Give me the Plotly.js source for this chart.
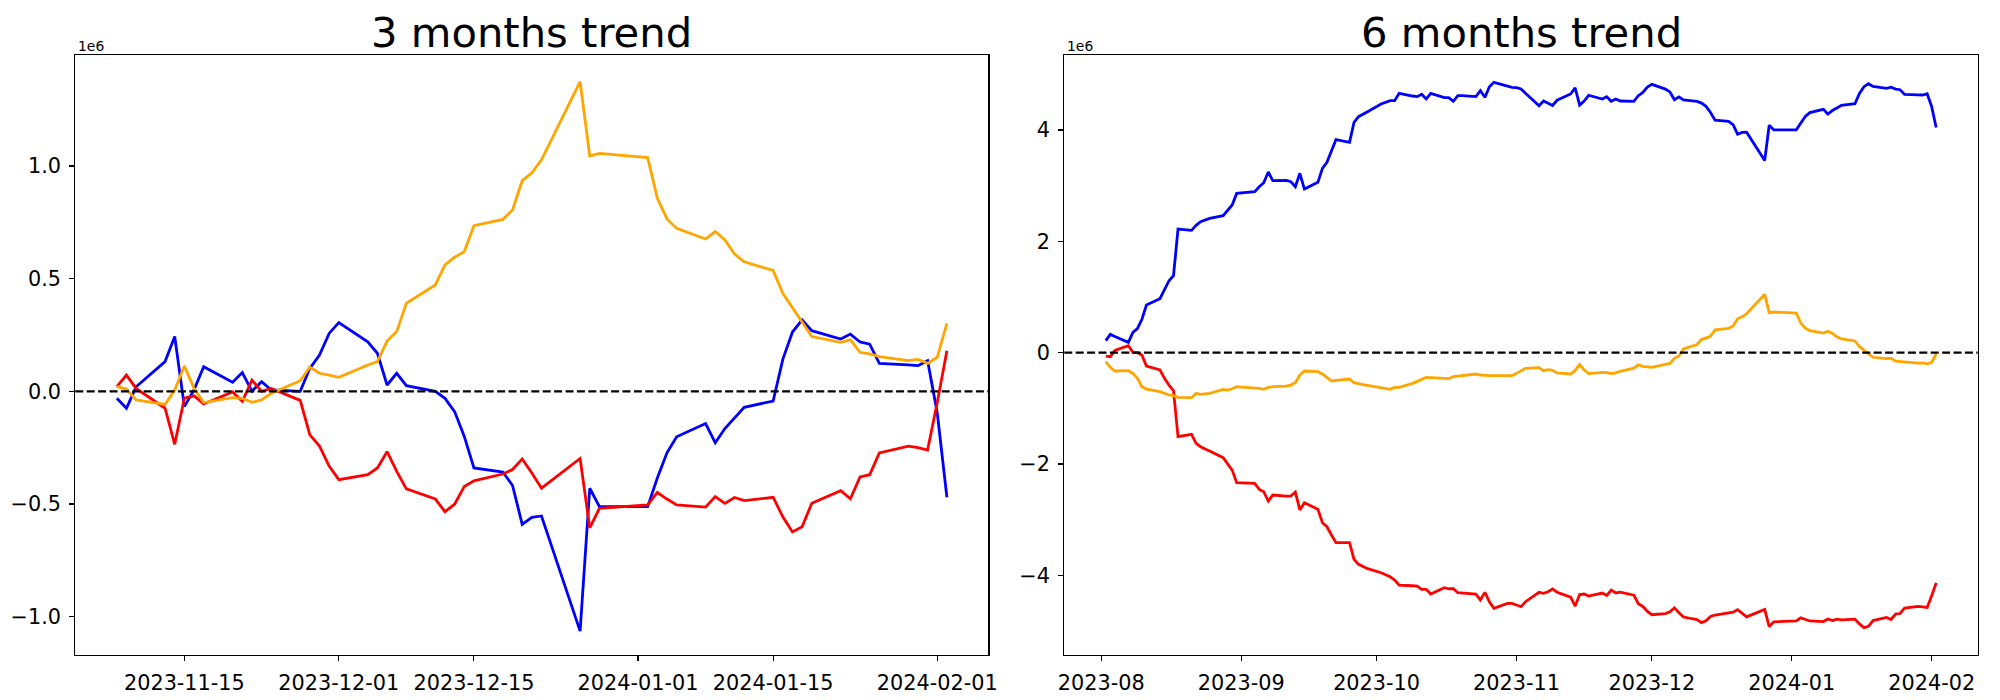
<!DOCTYPE html>
<html>
<head>
<meta charset="utf-8">
<script src="https://cdn.plot.ly/plotly-3.0.1.min.js"></script>
<style>html,body{margin:0;padding:0;background:#fff;}#chart{width:2000px;height:700px;}</style>
</head>
<body>
<div id="chart"></div>
<script>
// ---------- 3 months trend (values in units of 1e6) ----------
const dates3 = ['2023-11-08','2023-11-09','2023-11-10','2023-11-13','2023-11-14','2023-11-15','2023-11-16','2023-11-17','2023-11-20','2023-11-21','2023-11-22','2023-11-23','2023-11-24','2023-11-27','2023-11-28','2023-11-29','2023-11-30',
'2023-12-01','2023-12-04','2023-12-05','2023-12-06','2023-12-07','2023-12-08','2023-12-11','2023-12-12','2023-12-13','2023-12-14','2023-12-15','2023-12-18','2023-12-19','2023-12-20','2023-12-21','2023-12-22','2023-12-26','2023-12-27','2023-12-28',
'2024-01-02','2024-01-03','2024-01-04','2024-01-05','2024-01-08','2024-01-09','2024-01-10','2024-01-11','2024-01-12','2024-01-15','2024-01-16','2024-01-17','2024-01-18','2024-01-19','2024-01-22','2024-01-23','2024-01-24','2024-01-25','2024-01-26','2024-01-29','2024-01-30','2024-01-31',
'2024-02-01','2024-02-02'];
const blue3 = [-0.031,-0.075,0.02,0.132,0.243,-0.068,0.006,0.109,0.040,0.083,0.001,0.043,0.006,0.0,0.102,0.161,0.257,
0.305,0.220,0.169,0.028,0.080,0.025,0.0,-0.031,-0.09,-0.20,-0.34,-0.358,-0.418,-0.59,-0.559,-0.553,-1.064,-0.43,-0.512,
-0.512,-0.385,-0.273,-0.202,-0.143,-0.228,-0.165,-0.12,-0.071,-0.043,0.142,0.263,0.317,0.269,0.232,0.254,0.219,0.209,0.124,0.117,0.114,0.136,
-0.095,-0.47];
const red3 = [0.021,0.072,0.013,-0.075,-0.235,-0.03,-0.02,-0.056,-0.003,-0.045,0.05,0.0,0.013,-0.04,-0.193,-0.243,-0.332,
-0.392,-0.37,-0.34,-0.268,-0.355,-0.433,-0.478,-0.534,-0.501,-0.422,-0.397,-0.367,-0.347,-0.30,-0.362,-0.43,-0.298,-0.606,-0.519,
-0.504,-0.449,-0.478,-0.504,-0.514,-0.467,-0.497,-0.471,-0.485,-0.47,-0.557,-0.624,-0.601,-0.497,-0.441,-0.477,-0.38,-0.37,-0.273,-0.243,-0.25,-0.261,
-0.05,0.18];
const orange3 = [0.021,0.010,-0.038,-0.058,0.006,0.112,0.013,-0.05,-0.028,-0.031,-0.049,-0.038,-0.009,0.047,0.107,0.08,0.072,
0.062,0.117,0.132,0.223,0.265,0.391,0.472,0.561,0.595,0.620,0.735,0.763,0.805,0.935,0.970,1.027,1.374,1.044,1.056,
1.037,0.857,0.765,0.723,0.676,0.709,0.672,0.609,0.575,0.536,0.435,0.371,0.302,0.243,0.217,0.228,0.173,0.166,0.154,0.136,0.142,0.124,
0.151,0.302];

// ---------- 6 months trend (values in units of 1e6) ----------
const dates6 = ['2023-08-02','2023-08-03','2023-08-04','2023-08-07','2023-08-08','2023-08-09','2023-08-10','2023-08-11','2023-08-14','2023-08-15','2023-08-16','2023-08-17','2023-08-18','2023-08-21','2023-08-22','2023-08-23','2023-08-24','2023-08-25','2023-08-28','2023-08-29','2023-08-30','2023-08-31',
'2023-09-01','2023-09-04','2023-09-05','2023-09-06','2023-09-07','2023-09-08','2023-09-11','2023-09-12','2023-09-13','2023-09-14','2023-09-15','2023-09-18','2023-09-19','2023-09-20','2023-09-21','2023-09-22','2023-09-25','2023-09-26','2023-09-27','2023-09-28','2023-09-29',
'2023-10-02','2023-10-03','2023-10-04','2023-10-05','2023-10-06','2023-10-09','2023-10-10','2023-10-11','2023-10-12','2023-10-13','2023-10-16','2023-10-17','2023-10-18','2023-10-19','2023-10-20','2023-10-23','2023-10-24','2023-10-25','2023-10-26','2023-10-27','2023-10-30','2023-10-31',
'2023-11-01','2023-11-02','2023-11-03','2023-11-06','2023-11-07',
'2023-11-08','2023-11-09','2023-11-10','2023-11-13','2023-11-14','2023-11-15','2023-11-16','2023-11-17','2023-11-20','2023-11-21','2023-11-22','2023-11-23','2023-11-24','2023-11-27','2023-11-28','2023-11-29','2023-11-30',
'2023-12-01','2023-12-04','2023-12-05','2023-12-06','2023-12-07','2023-12-08','2023-12-11','2023-12-12','2023-12-13','2023-12-14','2023-12-15','2023-12-18','2023-12-19','2023-12-20','2023-12-21','2023-12-22','2023-12-26','2023-12-27','2023-12-28',
'2024-01-02','2024-01-03','2024-01-04','2024-01-05','2024-01-08','2024-01-09','2024-01-10','2024-01-11','2024-01-12','2024-01-15','2024-01-16','2024-01-17','2024-01-18','2024-01-19','2024-01-22','2024-01-23','2024-01-24','2024-01-25','2024-01-26','2024-01-29','2024-01-30','2024-01-31',
'2024-02-01','2024-02-02'];
const blue6 = [0.216,0.329,0.29,0.186,0.365,0.431,0.599,0.856,0.97,1.126,1.293,1.383,2.222,2.198,2.287,2.353,2.383,2.413,2.461,2.557,2.653,2.862,
2.868,2.892,2.982,3.054,3.246,3.09,3.096,3.072,2.982,3.222,2.94,3.06,3.311,3.419,3.623,3.826,3.778,4.138,4.24,4.281,4.329,
4.467,4.503,4.527,4.527,4.659,4.611,4.599,4.641,4.557,4.659,4.581,4.581,4.515,4.617,4.617,4.599,4.707,4.587,4.778,4.856,4.778,4.766,
4.76,4.737,4.659,4.437,4.521,
4.484,4.44,4.535,4.647,4.758,4.447,4.521,4.624,4.555,4.598,4.516,4.558,4.521,4.515,4.617,4.676,4.772,
4.82,4.735,4.684,4.543,4.595,4.54,4.515,4.484,4.425,4.315,4.175,4.157,4.097,3.925,3.956,3.962,3.451,4.085,4.003,
4.003,4.13,4.242,4.313,4.372,4.287,4.35,4.395,4.444,4.472,4.657,4.778,4.832,4.784,4.747,4.769,4.734,4.724,4.639,4.632,4.629,4.651,
4.42,4.045];
const red6 = [-0.06,-0.072,0.04,0.126,0.006,0.0,-0.042,-0.24,-0.311,-0.461,-0.581,-0.683,-1.509,-1.467,-1.629,-1.689,-1.731,-1.766,-1.886,-1.988,-2.108,-2.335,
-2.335,-2.347,-2.455,-2.497,-2.665,-2.557,-2.575,-2.575,-2.503,-2.826,-2.695,-2.814,-3.054,-3.126,-3.275,-3.413,-3.413,-3.713,-3.802,-3.844,-3.88,
-3.952,-3.982,-4.024,-4.084,-4.174,-4.186,-4.192,-4.251,-4.251,-4.335,-4.222,-4.24,-4.24,-4.311,-4.317,-4.335,-4.443,-4.305,-4.473,-4.593,-4.503,-4.503,
-4.533,-4.563,-4.473,-4.305,-4.323,
-4.294,-4.243,-4.302,-4.39,-4.55,-4.345,-4.335,-4.371,-4.318,-4.36,-4.265,-4.315,-4.302,-4.355,-4.508,-4.558,-4.647,
-4.707,-4.685,-4.655,-4.583,-4.67,-4.748,-4.793,-4.849,-4.816,-4.737,-4.712,-4.682,-4.662,-4.615,-4.677,-4.745,-4.613,-4.921,-4.834,
-4.819,-4.764,-4.793,-4.819,-4.829,-4.782,-4.812,-4.786,-4.80,-4.785,-4.872,-4.939,-4.916,-4.812,-4.756,-4.792,-4.695,-4.685,-4.588,-4.558,-4.565,-4.576,
-4.365,-4.135];
const orange6 = [-0.162,-0.263,-0.329,-0.323,-0.371,-0.461,-0.61,-0.653,-0.70,-0.737,-0.76,-0.772,-0.802,-0.808,-0.731,-0.749,-0.743,-0.731,-0.659,-0.671,-0.647,-0.611,
-0.617,-0.629,-0.641,-0.659,-0.623,-0.611,-0.599,-0.581,-0.539,-0.401,-0.329,-0.341,-0.383,-0.443,-0.509,-0.497,-0.473,-0.539,-0.563,-0.575,-0.587,
-0.623,-0.641,-0.659,-0.623,-0.623,-0.551,-0.521,-0.479,-0.443,-0.449,-0.467,-0.467,-0.431,-0.419,-0.419,-0.383,-0.401,-0.413,-0.413,-0.413,-0.413,-0.413,
-0.371,-0.323,-0.281,-0.269,-0.323,
-0.304,-0.315,-0.363,-0.383,-0.319,-0.213,-0.312,-0.375,-0.353,-0.356,-0.374,-0.363,-0.334,-0.278,-0.218,-0.245,-0.253,
-0.263,-0.208,-0.193,-0.102,-0.06,0.066,0.147,0.236,0.27,0.295,0.41,0.438,0.48,0.61,0.645,0.702,1.049,0.719,0.731,
0.712,0.532,0.44,0.398,0.351,0.384,0.347,0.284,0.25,0.211,0.11,0.046,-0.023,-0.082,-0.108,-0.097,-0.152,-0.159,-0.171,-0.189,-0.183,-0.201,
-0.174,-0.023];

// ---------- tick labels ----------
const xTicks3 = ['2023-11-15','2023-12-01','2023-12-15','2024-01-01','2024-01-15','2024-02-01'];
const xTicks6 = ['2023-08-01','2023-09-01','2023-10-01','2023-11-01','2023-12-01','2024-01-01','2024-02-01'];
const xText6 = ['2023-08','2023-09','2023-10','2023-11','2023-12','2024-01','2024-02'];
const yTicks3 = [-1, -0.5, 0, 0.5, 1];
const yText3 = ['\u22121.0','\u22120.5','0.0','0.5','1.0'];
const yTicks6 = [-4, -2, 0, 2, 4];
const yText6 = ['\u22124','\u22122','0','2','4'];

const LW = 2.8;
function line(x, y, color, xa, ya) {
  return {x: x, y: y, type: 'scatter', mode: 'lines', xaxis: xa, yaxis: ya,
          line: {color: color, width: LW}, hoverinfo: 'skip', showlegend: false};
}
const traces = [
  line(dates3, blue3, '#0000ff', 'x', 'y'),
  line(dates3, red3, '#ff0000', 'x', 'y'),
  line(dates3, orange3, '#ffa500', 'x', 'y'),
  line(dates6, blue6, '#0000ff', 'x2', 'y2'),
  line(dates6, red6, '#ff0000', 'x2', 'y2'),
  line(dates6, orange6, '#ffa500', 'x2', 'y2')
];

const tickFont = {family: 'DejaVu Sans', size: 20.8, color: '#000'};
const common = {showgrid: false, zeroline: false, showline: true, mirror: true, linecolor: '#000', linewidth: 1.1,
  ticks: 'outside', ticklen: 5, tickwidth: 1.1, tickcolor: '#000', tickfont: tickFont, fixedrange: true};

const yDom = [1 - 655/700, 1 - 55.3/700];
const layout = {
  width: 2000, height: 700,
  margin: {l: 0, r: 0, t: 0, b: 0},
  paper_bgcolor: '#fff', plot_bgcolor: '#fff',
  showlegend: false,
  font: {family: 'DejaVu Sans', color: '#000'},
  xaxis: Object.assign({}, common, {type: 'date', domain: [75.3/2000, 988.4/2000], anchor: 'y',
    range: ['2023-11-03 16:48', '2024-02-06 07:12'], tickmode: 'array', tickvals: xTicks3, ticktext: xTicks3, ticklabelstandoff: 4}),
  yaxis: Object.assign({}, common, {domain: yDom, anchor: 'x', range: [-1.170, 1.491],
    tickmode: 'array', tickvals: yTicks3, ticktext: yText3, ticklabelstandoff: 4}),
  xaxis2: Object.assign({}, common, {type: 'date', domain: [1064.3/2000, 1977.7/2000], anchor: 'y2',
    range: ['2023-07-23 19:12', '2024-02-11 04:48'], tickmode: 'array', tickvals: xTicks6, ticktext: xText6, ticklabelstandoff: 4}),
  yaxis2: Object.assign({}, common, {domain: yDom, anchor: 'x2', range: [-5.430, 5.342],
    tickmode: 'array', tickvals: yTicks6, ticktext: yText6, ticklabelstandoff: 4}),
  shapes: [
    {type: 'line', xref: 'x domain', yref: 'y', x0: 0, x1: 1, y0: 0, y1: 0, layer: 'above',
     line: {color: '#000', width: 2.2, dash: '8px,3.4px'}},
    {type: 'line', xref: 'x2 domain', yref: 'y2', x0: 0, x1: 1, y0: 0, y1: 0, layer: 'above',
     line: {color: '#000', width: 2.2, dash: '8px,3.4px'}}
  ],
  annotations: [
    {text: '3 months trend', xref: 'paper', yref: 'paper', x: (75.3+988.4)/2/2000, y: 1 - 32.5/700,
     xanchor: 'center', yanchor: 'middle', showarrow: false, font: {family: 'DejaVu Sans', size: 41.7, color: '#000'}},
    {text: '6 months trend', xref: 'paper', yref: 'paper', x: (1064.3+1977.7)/2/2000, y: 1 - 32.5/700,
     xanchor: 'center', yanchor: 'middle', showarrow: false, font: {family: 'DejaVu Sans', size: 41.7, color: '#000'}},
    {text: '1e6', xref: 'paper', yref: 'paper', x: 75.5/2000, y: 1 - 46.0/700,
     xanchor: 'left', yanchor: 'middle', showarrow: false, font: {family: 'DejaVu Sans', size: 13.9, color: '#000'}},
    {text: '1e6', xref: 'paper', yref: 'paper', x: 1064.5/2000, y: 1 - 46.0/700,
     xanchor: 'left', yanchor: 'middle', showarrow: false, font: {family: 'DejaVu Sans', size: 13.9, color: '#000'}}
  ]
};

Plotly.newPlot('chart', traces, layout, {displayModeBar: false, staticPlot: true});
</script>
</body>
</html>
